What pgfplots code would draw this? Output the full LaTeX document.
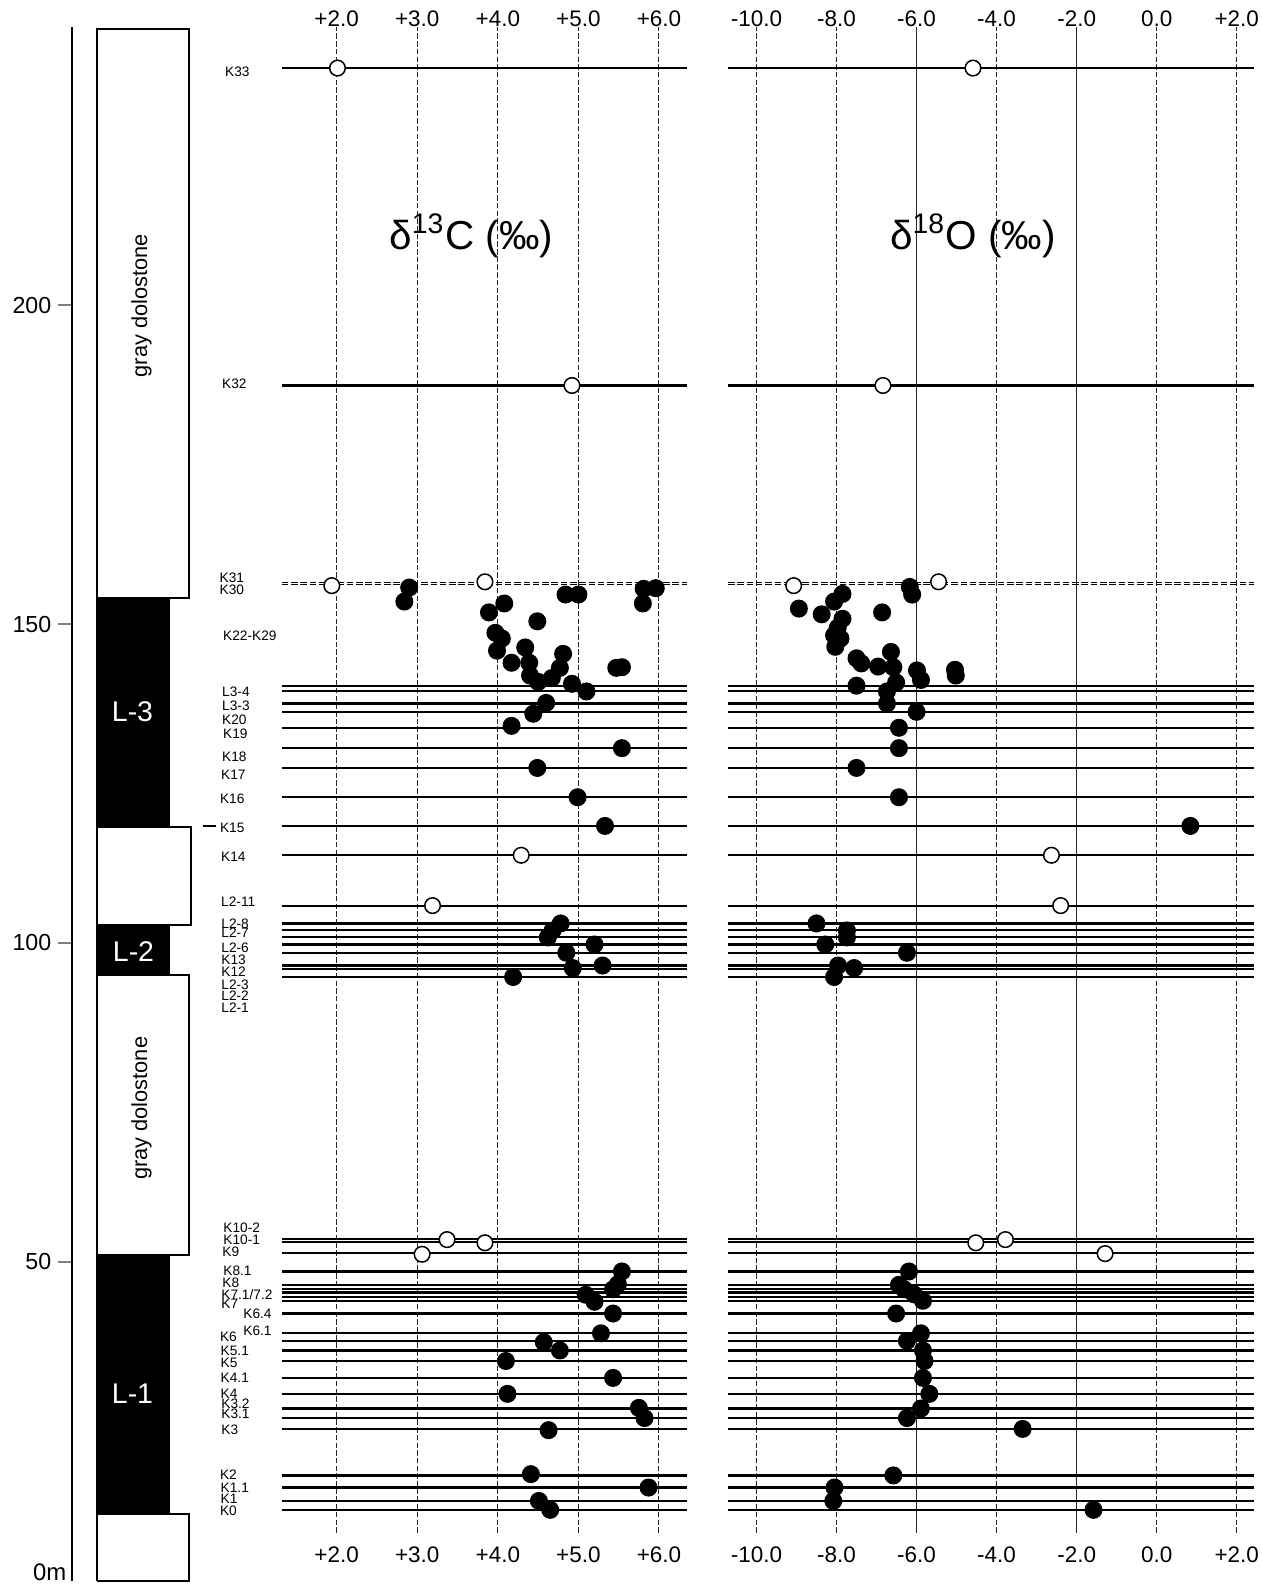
\documentclass[border=0pt]{standalone}
\usepackage{fontspec}
\setmainfont{Liberation Sans}
\usepackage{pgfplots}
\usepackage{pgfplotstable}
\pgfplotsset{compat=1.18}

\newcommand\tickfont{\fontsize{6.4}{7}\selectfont}
\newcommand\samplefont{\fontsize{3.9}{4.3}\selectfont}

% d13C, filled symbols (value, height in m)
\pgfplotstableread{
d h
2.90 155.8
2.84 153.6
4.08 153.3
3.89 151.9
4.49 150.5
4.84 154.7
5.00 154.7
5.81 155.6
5.96 155.7
5.80 153.3
3.97 148.7
4.05 147.8
3.99 145.9
4.34 146.4
4.17 144.0
4.39 144.0
4.81 145.4
4.77 143.2
5.47 143.2
5.54 143.3
4.40 142.0
4.50 141.0
4.67 141.6
4.92 140.7
5.10 139.5
4.60 137.7
4.44 136.0
4.17 134.1
5.54 130.6
4.49 127.5
4.99 122.9
5.33 118.4
4.78 103.1
4.68 102.0
4.62 100.9
5.20 99.8
4.85 98.5
5.30 96.5
4.93 96.1
4.19 94.7
5.54 48.5
5.49 46.5
5.43 45.7
5.09 44.85
5.20 43.75
5.43 41.9
5.28 38.8
4.57 37.4
4.77 36.1
4.10 34.45
5.43 31.8
4.12 29.3
5.75 27.1
5.82 25.5
4.63 23.6
4.41 16.7
5.87 14.6
4.51 12.5
4.65 11.1
}\cfill

% d13C, open symbols
\pgfplotstableread{
d h
2.01 237.3
4.92 187.5
1.94 156.1
3.84 156.7
4.29 113.8
3.19 105.9
3.37 53.5
3.84 53.0
3.06 51.2
}\copen

% d18O, filled symbols
\pgfplotstableread{
d h
-6.17 155.9
-6.11 154.7
-7.85 154.8
-8.06 153.6
-8.94 152.5
-8.37 151.6
-6.86 151.9
-7.85 150.9
-7.97 149.5
-8.06 148.3
-7.90 147.8
-8.03 146.5
-6.64 145.7
-7.50 144.7
-7.38 143.9
-6.96 143.4
-6.58 143.3
-5.99 142.8
-5.89 141.3
-5.04 142.9
-5.02 142.0
-6.51 140.9
-7.50 140.4
-6.74 139.5
-6.74 137.6
-6.00 136.3
-6.44 133.8
-6.44 130.6
-7.50 127.5
-6.44 122.9
0.84 118.4
-8.50 103.1
-7.74 102.0
-7.74 100.9
-8.28 99.8
-6.24 98.5
-7.96 96.5
-7.56 96.1
-8.06 94.7
-6.19 48.5
-6.44 46.4
-6.31 45.7
-6.06 44.9
-5.84 43.9
-6.51 41.9
-5.89 38.8
-6.24 37.6
-5.84 36.1
-5.80 34.45
-5.84 31.8
-5.68 29.3
-5.89 27.0
-6.24 25.5
-3.35 23.8
-6.58 16.5
-8.05 14.6
-8.08 12.5
-1.58 11.1
}\ofill

% d18O, open symbols
\pgfplotstableread{
d h
-4.59 237.3
-6.84 187.5
-9.07 156.1
-5.45 156.7
-2.63 113.8
-2.40 105.9
-4.52 53.0
-3.78 53.5
-1.29 51.3
}\oopen

\pgfplotsset{
  panel/.style={scale only axis, anchor=south west, height=15.533cm,
    ymin=0, ymax=243.7, axis line style={draw=none}, ytick=\empty,
    major tick length=0pt, clip=false,
    xticklabel style={font=\tickfont, inner sep=0pt}},
  labelrow/.style={scale only axis, anchor=south west, height=0.5cm,
    ymin=0, ymax=1, axis line style={draw=none}, ytick=\empty,
    major tick length=0pt, xticklabel style={font=\tickfont, inner sep=0pt}},
  hline/.style={black, line width=0.22mm},
  vgrid/.style={black!85, line width=0.1mm, dash pattern=on 0.55mm off 0.22mm},
  vsolid/.style={black!85, line width=0.1mm},
  pair/.style={black, line width=0.1mm, dash pattern=on 0.65mm off 0.28mm},
  full/.style={only marks, mark=*, mark size=0.83mm,
    mark options={fill=black, draw=black}},
  hollow/.style={only marks, mark=*, mark size=0.78mm,
    mark options={fill=white, draw=black, line width=0.15mm}},
}

\begin{document}
\begin{tikzpicture}
\path[use as bounding box] (0,0) rectangle (12.62,15.85);

% depth scale
\begin{axis}[scale only axis, anchor=south west, at={(0.72cm,0.044cm)},
  width=0.1cm, height=15.533cm, xmin=0, xmax=1, ymin=0, ymax=243.6,
  axis x line=none, axis y line*=left, ytick={50,100,150,200},
  tick align=outside, major tick length=1.4mm,
  /pgf/number format/assume math mode=true,
  axis line style={line width=0.2mm}, ytick style={line width=0.2mm},
  yticklabel style={font=\fontsize{6.6}{7}\selectfont, inner sep=0.6mm}]
\end{axis}

% lithology column and sample names
\begin{axis}[scale only axis, anchor=south west, at={(0cm,0.044cm)},
  width=2.8cm, height=15.533cm, xmin=0, xmax=280, ymin=0, ymax=243.7,
  hide axis, clip=false]
\addplot[fill=white, draw=black, line width=0.2mm] coordinates {(97,0) (189,0) (189,10.5) (97,10.5) (97,0)};
\addplot[fill=black, draw=black, line width=0.2mm] coordinates {(97,10.5) (169,10.5) (169,51.1) (97,51.1) (97,10.5)};
\addplot[fill=white, draw=black, line width=0.2mm] coordinates {(97,51.1) (189,51.1) (189,95.0) (97,95.0) (97,51.1)};
\addplot[fill=black, draw=black, line width=0.2mm] coordinates {(97,95.0) (169,95.0) (169,102.8) (97,102.8) (97,95.0)};
\addplot[fill=white, draw=black, line width=0.2mm] coordinates {(97,102.8) (191,102.8) (191,118.2) (97,118.2) (97,102.8)};
\addplot[fill=black, draw=black, line width=0.2mm] coordinates {(97,118.2) (169,118.2) (169,154.2) (97,154.2) (97,118.2)};
\addplot[fill=white, draw=black, line width=0.2mm] coordinates {(97,154.2) (189,154.2) (189,243.4) (97,243.4) (97,154.2)};
\addplot[black, line width=0.2mm] coordinates {(203,118.4) (216,118.4)};

\node[anchor=base east, inner sep=0pt, font=\fontsize{6.8}{7}\selectfont] at (axis cs:67,0) {0m};
\node[rotate=90, font=\fontsize{6.2}{7}\selectfont] at (axis cs:141.5,200) {gray dolostone};
\node[rotate=90, font=\fontsize{6.2}{7}\selectfont] at (axis cs:141.5,74.1) {gray dolostone};
\node[white, font=\fontsize{8.1}{9}\selectfont] at (axis cs:132.5,136.3) {L-3};
\node[white, font=\fontsize{8.1}{9}\selectfont] at (axis cs:133.5,98.7) {L-2};
\node[white, font=\fontsize{8.1}{9}\selectfont] at (axis cs:132.5,29.4) {L-1};

\begin{scope}[every node/.style={anchor=west, inner sep=0pt, font=\samplefont}]
\node at (axis cs:224.5,236.7) {K33};
\node at (axis cs:221.5,187.7) {K32};
\node at (axis cs:219,157.3) {K31};
\node at (axis cs:219,155.4) {K30};
\node at (axis cs:222.5,148.3) {K22-K29};
\node at (axis cs:221.5,139.5) {L3-4};
\node at (axis cs:221.5,137.3) {L3-3};
\node at (axis cs:221.5,135.1) {K20};
\node at (axis cs:222.5,132.9) {K19};
\node at (axis cs:221.5,129.3) {K18};
\node at (axis cs:220.5,126.4) {K17};
\node at (axis cs:219.3,122.7) {K16};
\node at (axis cs:219.3,118.1) {K15};
\node at (axis cs:220.5,113.5) {K14};
\node at (axis cs:220.5,106.5) {L2-11};
\node at (axis cs:220.7,103.1) {L2-8};
\node at (axis cs:220.7,101.6) {L2-7};
\node at (axis cs:220.7,99.25) {L2-6};
\node at (axis cs:220.7,97.4) {K13};
\node at (axis cs:220.7,95.5) {K12};
\node at (axis cs:220.7,93.4) {L2-3};
\node at (axis cs:220.7,91.7) {L2-2};
\node at (axis cs:220.7,89.9) {L2-1};
\node at (axis cs:222.7,55.3) {K10-2};
\node at (axis cs:222.7,53.4) {K10-1};
\node at (axis cs:221.7,51.6) {K9};
\node at (axis cs:222.7,48.6) {K8.1};
\node at (axis cs:221.7,46.8) {K8};
\node at (axis cs:220.7,44.8) {K7.1/7.2};
\node at (axis cs:220.7,43.5) {K7};
\node at (axis cs:242.7,41.9) {K6.4};
\node at (axis cs:242.7,39.2) {K6.1};
\node at (axis cs:219.3,38.3) {K6};
\node at (axis cs:220,36.1) {K5.1};
\node at (axis cs:220,34.2) {K5};
\node at (axis cs:220,31.8) {K4.1};
\node at (axis cs:220,29.3) {K4};
\node at (axis cs:220.7,27.7) {K3.2};
\node at (axis cs:220.7,26.1) {K3.1};
\node at (axis cs:220.7,23.6) {K3};
\node at (axis cs:219.3,16.6) {K2};
\node at (axis cs:220,14.6) {K1.1};
\node at (axis cs:220,12.9) {K1};
\node at (axis cs:219.3,11.0) {K0};
\end{scope}
\end{axis}

% d13C panel
\begin{axis}[panel, at={(2.817cm,0.044cm)}, width=4.05cm,
  xmin=1.318, xmax=6.344, xticklabel pos=upper,
  xtick={2,3,4,5,6}, xticklabels={+2.0,+3.0,+4.0,+5.0,+6.0}]
\pgfplotsinvokeforeach{2,3,4,5,6}{\addplot[vgrid] coordinates {(#1,7.5) (#1,243.7)};}
\pgfplotsinvokeforeach{237.3,187.5,140.4,139.6,137.6,136.3,133.8,130.6,127.5,122.9,118.4,113.8,105.9,103.1,102.1,101.0,99.8,98.5,96.5,96.0,94.7,53.6,53.1,51.35,48.5,46.4,45.7,45.2,44.5,43.9,41.9,38.8,37.6,36.1,34.45,31.8,29.3,27.0,25.5,23.8,16.5,14.6,12.5,11.1}{\addplot[hline] coordinates {(1.318,#1) (6.344,#1)};}
\addplot[pair] coordinates {(1.318,156.6) (6.344,156.6)};
\addplot[pair] coordinates {(1.318,156.2) (6.344,156.2)};
\addplot[full] table[x=d, y=h] {\cfill};
\addplot[hollow] table[x=d, y=h] {\copen};
\node[font=\fontsize{11.5}{13}\selectfont] at (axis cs:3.67,211) {δ\textsuperscript{13}C (‰)};
\end{axis}
\begin{axis}[labelrow, at={(2.817cm,0.39cm)}, width=4.05cm,
  xmin=1.318, xmax=6.344,
  xtick={2,3,4,5,6}, xticklabels={+2.0,+3.0,+4.0,+5.0,+6.0}]
\end{axis}

% d18O panel
\begin{axis}[panel, at={(7.28cm,0.044cm)}, width=5.26cm,
  xmin=-10.71, xmax=2.43, xticklabel pos=upper,
  xtick={-10,-8,-6,-4,-2,0,2}, xticklabels={-10.0,-8.0,-6.0,-4.0,-2.0,0.0,+2.0}]
\pgfplotsinvokeforeach{-10,-8,-4,0,2}{\addplot[vgrid] coordinates {(#1,7.5) (#1,243.7)};}
\pgfplotsinvokeforeach{-6,-2}{\addplot[vsolid] coordinates {(#1,7.5) (#1,243.7)};}
\pgfplotsinvokeforeach{237.3,187.5,140.4,139.6,137.6,136.3,133.8,130.6,127.5,122.9,118.4,113.8,105.9,103.1,102.1,101.0,99.8,98.5,96.5,96.0,94.7,53.6,53.1,51.35,48.5,46.4,45.7,45.2,44.5,43.9,41.9,38.8,37.6,36.1,34.45,31.8,29.3,27.0,25.5,23.8,16.5,14.6,12.5,11.1}{\addplot[hline] coordinates {(-10.71,#1) (2.43,#1)};}
\addplot[pair] coordinates {(-10.71,156.6) (2.43,156.6)};
\addplot[pair] coordinates {(-10.71,156.2) (2.43,156.2)};
\addplot[full] table[x=d, y=h] {\ofill};
\addplot[hollow] table[x=d, y=h] {\oopen};
\node[font=\fontsize{11.5}{13}\selectfont] at (axis cs:-4.59,211) {δ\textsuperscript{18}O (‰)};
\end{axis}
\begin{axis}[labelrow, at={(7.28cm,0.39cm)}, width=5.26cm,
  xmin=-10.71, xmax=2.43,
  xtick={-10,-8,-6,-4,-2,0,2}, xticklabels={-10.0,-8.0,-6.0,-4.0,-2.0,0.0,+2.0}]
\end{axis}
\end{tikzpicture}
\end{document}
